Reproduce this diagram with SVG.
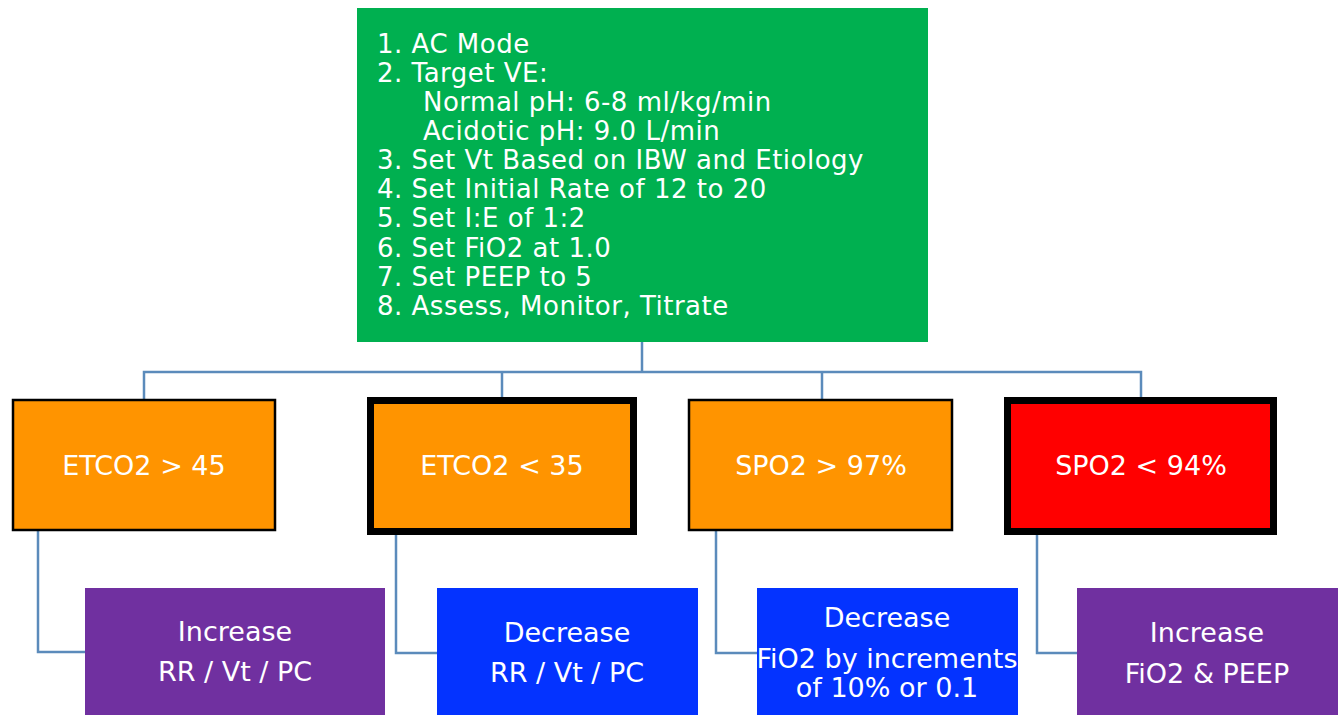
<svg xmlns="http://www.w3.org/2000/svg" width="1342" height="715" viewBox="0 0 1342 715">
<style>
.t{font-family:"DejaVu Sans",Verdana,sans-serif;font-size:26px;letter-spacing:0.5px;fill:#fff}
.c{font-family:"DejaVu Sans",Verdana,sans-serif;font-size:27px;fill:#fff;text-anchor:middle}
.conn{fill:none;stroke:#5B8BBB;stroke-width:2.5}
.thin{stroke:#000;stroke-width:2.5}
.thick{stroke:#000;stroke-width:7}
</style>
<rect width="1342" height="715" fill="#fff"/>
<g id="connectors">
<path class="conn" d="M642 342V372M144 399V372H1141V397M502 372V397M822 372V399"/>
<path class="conn" d="M38 531V652H85M396 535V653H437M716 531V653H757M1037 535V653H1077"/>
</g>
<g id="main">
<rect x="357" y="8" width="571" height="334" fill="#00B050"/>
<text class="t" x="377" y="52.5">1. AC Mode</text>
<text class="t" x="377" y="81.6">2. Target VE:</text>
<text class="t" x="423" y="110.8">Normal pH: 6-8 ml/kg/min</text>
<text class="t" x="423" y="140">Acidotic pH: 9.0 L/min</text>
<text class="t" x="377" y="169">3. Set Vt Based on IBW and Etiology</text>
<text class="t" x="377" y="198.2">4. Set Initial Rate of 12 to 20</text>
<text class="t" x="377" y="227.4">5. Set I:E of 1:2</text>
<text class="t" x="377" y="256.5">6. Set FiO2 at 1.0</text>
<text class="t" x="377" y="285.7">7. Set PEEP to 5</text>
<text class="t" x="377" y="314.8">8. Assess, Monitor, Titrate</text>
</g>
<g id="etco2-high">
<rect class="thin" x="13" y="400" width="262" height="130" fill="#FF9400"/>
<text class="c" x="144" y="475">ETCO2 &gt; 45</text>
</g>
<g id="etco2-low">
<rect class="thick" x="370.5" y="400.5" width="263" height="131" fill="#FF9400"/>
<text class="c" x="502" y="475">ETCO2 &lt; 35</text>
</g>
<g id="spo2-high">
<rect class="thin" x="689" y="400" width="263" height="130" fill="#FF9400"/>
<text class="c" x="821" y="475">SPO2 &gt; 97%</text>
</g>
<g id="spo2-low">
<rect class="thick" x="1007.5" y="400.5" width="266" height="131" fill="#FF0000"/>
<text class="c" x="1141" y="475">SPO2 &lt; 94%</text>
</g>
<g id="increase-rr">
<rect x="85" y="588" width="300" height="127" fill="#7030A0"/>
<text class="c" x="235" y="641">Increase</text>
<text class="c" x="235" y="681">RR / Vt / PC</text>
</g>
<g id="decrease-rr">
<rect x="437" y="588" width="261" height="127" fill="#0433FF"/>
<text class="c" x="567" y="642">Decrease</text>
<text class="c" x="567" y="682">RR / Vt / PC</text>
</g>
<g id="decrease-fio2">
<rect x="757" y="588" width="261" height="127" fill="#0433FF"/>
<text class="c" x="887" y="627">Decrease</text>
<text class="c" x="887" y="668">FiO2 by increments</text>
<text class="c" x="887" y="697">of 10% or 0.1</text>
</g>
<g id="increase-fio2">
<rect x="1077" y="588" width="261" height="127" fill="#7030A0"/>
<text class="c" x="1207" y="642">Increase</text>
<text class="c" x="1207" y="683">FiO2 &amp; PEEP</text>
</g>
</svg>
